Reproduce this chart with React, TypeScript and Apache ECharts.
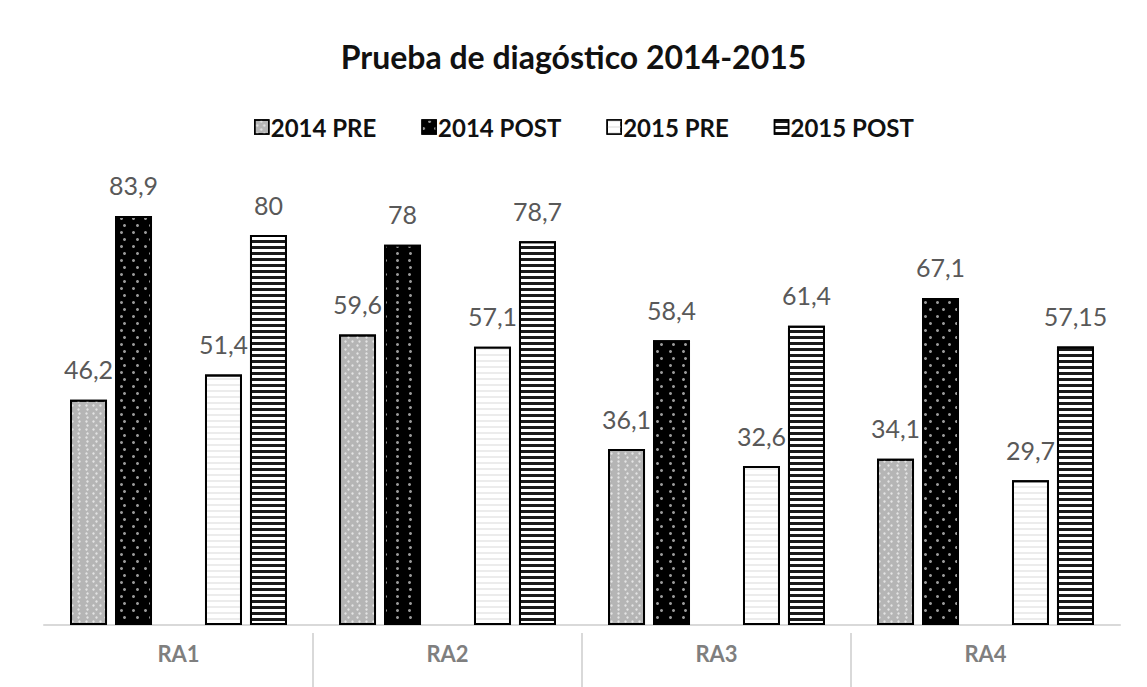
import React, { useEffect, useRef } from "react";
import * as echarts from "echarts";

const categories = ["RA1", "RA2", "RA3", "RA4"];
const boundaries = ["b0", "b1", "b2", "b3", "b4"];
const seriesNames = ["2014 PRE", "2014 POST", "2015 PRE", "2015 POST"];
const pre2014 = [46.2, 59.6, 36.1, 34.1];
const post2014 = [83.9, 78, 58.4, 67.1];
const pre2015 = [51.4, 57.1, 32.6, 29.7];
const post2015 = [80, 78.7, 61.4, 57.15];
const emptySlot = [null, null, null, null];

const FONT = "Lato";

export default function App() {
  const ref = useRef<HTMLDivElement>(null);
  useEffect(() => {
    document.body.style.margin = "0";
    const chart = echarts.init(ref.current!, null, { renderer: "svg" });
    const label = {
      show: true,
      position: "top",
      distance: 18,
      color: "#595959",
      fontFamily: FONT,
      fontSize: 25,
      formatter: (p: any) => String(p.value).replace(".", ","),
    };
    const base = (name: string, data: any[], color: string, decal: any) => ({
      name,
      type: "bar",
      data,
      xAxisIndex: 0,
      barWidth: 37,
      barGap: "21.6%",
      label,
      itemStyle: { color, borderColor: "#000", borderWidth: 2, decal },
    });
    chart.setOption({
      animation: false,
      backgroundColor: "#fff",
      title: {
        text: "Prueba de diagóstico 2014-2015",
        left: "center",
        top: 35,
        padding: [5, 0, 5, 34],
        textStyle: { fontFamily: FONT, fontSize: 32, fontWeight: "bold", color: "#111" },
      },
      legend: {
        data: seriesNames,
        top: 110,
        left: 249,
        padding: 5,
        itemWidth: 14,
        itemHeight: 14,
        itemGap: 45,
        icon: "rect",
        itemStyle: { borderColor: "#000", borderWidth: 1.5 },
        textStyle: { fontFamily: FONT, fontSize: 24, fontWeight: "bold", color: "#111", padding: [0, 0, 0, -3] },
      },
      grid: { left: 44, right: 27, top: 137.5, bottom: 62 },
      xAxis: [
        {
          type: "category",
          data: categories,
          axisLine: { lineStyle: { color: "#d9d9d9", width: 2 } },
          axisTick: { show: false },
          axisLabel: {
            margin: 17,
            fontFamily: FONT,
            fontSize: 22,
            fontWeight: "bold",
            color: "#7f7f7f",
          },
        },
        {
          type: "category",
          data: boundaries,
          boundaryGap: false,
          position: "bottom",
          offset: 8,
          axisLine: { show: false },
          axisTick: {
            show: true,
            length: 56,
            interval: (i: number) => i > 0 && i < 4,
            lineStyle: { color: "#d9d9d9", width: 2 },
          },
          axisLabel: { show: false },
        },
      ],
      yAxis: {
        type: "value",
        min: 0,
        max: 100,
        show: false,
        splitLine: { show: false },
      },
      series: [
        base(seriesNames[0], pre2014, "#b5b5b5", {
          symbol: "circle",
          symbolSize: 0.8,
          symbolKeepAspect: false,
          color: "#e4e4e4",
          dashArrayX: [[5, 2], [0, 3.5, 5, 0]],
          dashArrayY: [3, 1],
        }),
        base(seriesNames[1], post2014, "#000", {
          symbol: "circle",
          symbolSize: 1,
          color: "#9a9a9a",
          dashArrayX: [[2.5, 9], [0, 5.75, 2.5, 3.25]],
          dashArrayY: [2.5, 3.5],
        }),
        { name: "", type: "bar", data: emptySlot, xAxisIndex: 0, barWidth: 37, barGap: "21.6%" },
        base(seriesNames[2], pre2015, "#fff", {
          symbol: "rect",
          symbolSize: 1,
          color: "#ececec",
          dashArrayX: [1, 0],
          dashArrayY: [1.5, 4],
        }),
        base(seriesNames[3], post2015, "#fff", {
          symbol: "rect",
          symbolSize: 1,
          color: "#1a1a1a",
          dashArrayX: [1, 0],
          dashArrayY: [2.5, 2.2],
        }),
      ],
    });
    return () => chart.dispose();
  }, []);
  return <div ref={ref} style={{ width: 1147, height: 687 }} />;
}
